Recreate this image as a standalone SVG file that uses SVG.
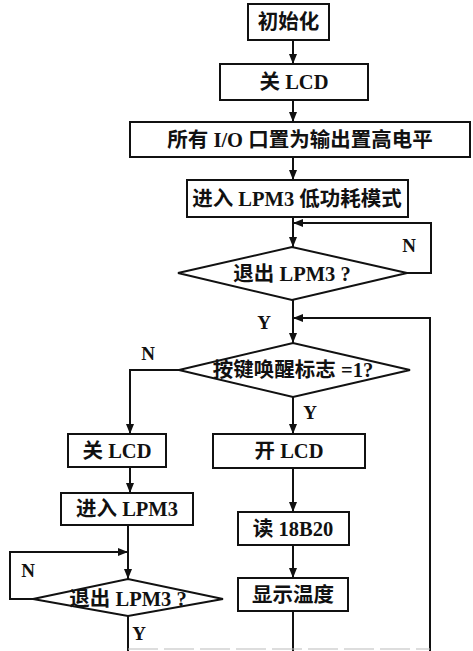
<svg xmlns="http://www.w3.org/2000/svg" width="473" height="651" viewBox="0 0 473 651">
<defs>
<marker id="ah" markerWidth="10" markerHeight="8" refX="10" refY="4" orient="auto" markerUnits="userSpaceOnUse">
<path d="M0,0 L10,4 L0,8 Z" fill="#111"/>
</marker>
<style>
.box{fill:#fff;stroke:#111;stroke-width:2}
.t{font-family:"Liberation Serif","Noto Sans CJK SC",serif;font-weight:bold;font-size:20.5px;fill:#111;text-anchor:middle;dominant-baseline:central}
.lb{font-family:"Liberation Serif",serif;font-weight:bold;font-size:19px;fill:#111;text-anchor:middle;dominant-baseline:central}
.c{fill:none;stroke:#111;stroke-width:2}
</style>
</defs>
<rect width="473" height="651" fill="#fff"/>
<g id="connectors">
<path class="c" d="M293,40 V64" marker-end="url(#ah)"/>
<path class="c" d="M293,100 V122" marker-end="url(#ah)"/>
<path class="c" d="M293,157 V180" marker-end="url(#ah)"/>
<path class="c" d="M293,217 V247" marker-end="url(#ah)"/>
<path class="c" d="M407,273 H431 V223 H293" marker-end="url(#ah)"/>
<path class="c" d="M293,300 V343" marker-end="url(#ah)"/>
<path class="c" d="M430,651 V318 H293" marker-end="url(#ah)"/>
<path class="c" d="M179,370 H130 V434" marker-end="url(#ah)"/>
<path class="c" d="M293,397 V434" marker-end="url(#ah)"/>
<path class="c" d="M130,467 V493" marker-end="url(#ah)"/>
<path class="c" d="M128,525 V579" marker-end="url(#ah)"/>
<path class="c" d="M33,599 H10 V552 H128" marker-end="url(#ah)"/>
<path class="c" d="M128,616 V651"/>
<path class="c" d="M293,468 V512" marker-end="url(#ah)"/>
<path class="c" d="M293,545 V578" marker-end="url(#ah)"/>
<path class="c" d="M293,611 V651"/>
<path d="M128,649 H430" fill="none" stroke="#bbb" stroke-width="1" stroke-dasharray="30,6"/>
</g>
<g id="n1"><rect class="box" x="248" y="4" width="81" height="36"/><text class="t" x="288.5" y="22">初始化</text></g>
<g id="n2"><rect class="box" x="220" y="64" width="148" height="36"/><text class="t" x="294" y="82">关 LCD</text></g>
<g id="n3"><rect class="box" x="130" y="122" width="340" height="35"/><text class="t" x="300" y="140">所有 I/O 口置为输出置高电平</text></g>
<g id="n4"><rect class="box" x="187" y="180" width="221" height="37"/><text class="t" x="297" y="199">进入 LPM3 低功耗模式</text></g>
<g id="d1"><polygon class="box" points="178,273 292,247 407,273 292,300"/><text class="t" x="292" y="274">退出 LPM3 ?</text></g>
<g id="d2"><polygon class="box" points="179,370 293,343 410,370 293,397"/><text class="t" x="293" y="370">按键唤醒标志 =1?</text></g>
<g id="n5"><rect class="box" x="68" y="434" width="98" height="33"/><text class="t" x="117" y="451">关 LCD</text></g>
<g id="n6"><rect class="box" x="213" y="434" width="152" height="34"/><text class="t" x="289" y="451">开 LCD</text></g>
<g id="n7"><rect class="box" x="61" y="493" width="132" height="32"/><text class="t" x="127" y="509">进入 LPM3</text></g>
<g id="n8"><rect class="box" x="238" y="512" width="111" height="33"/><text class="t" x="293" y="529">读 18B20</text></g>
<g id="n9"><rect class="box" x="238" y="578" width="110" height="33"/><text class="t" x="293" y="595">显示温度</text></g>
<g id="d3"><polygon class="box" points="33,599 128,579 223,599 128,616"/><text class="t" x="128" y="599">退出 LPM3 ?</text></g>
<g id="labels">
<text class="lb" x="409" y="245">N</text>
<text class="lb" x="264" y="322">Y</text>
<text class="lb" x="148" y="353">N</text>
<text class="lb" x="310" y="412">Y</text>
<text class="lb" x="28" y="570">N</text>
<text class="lb" x="139" y="633">Y</text>
</g>
</svg>
